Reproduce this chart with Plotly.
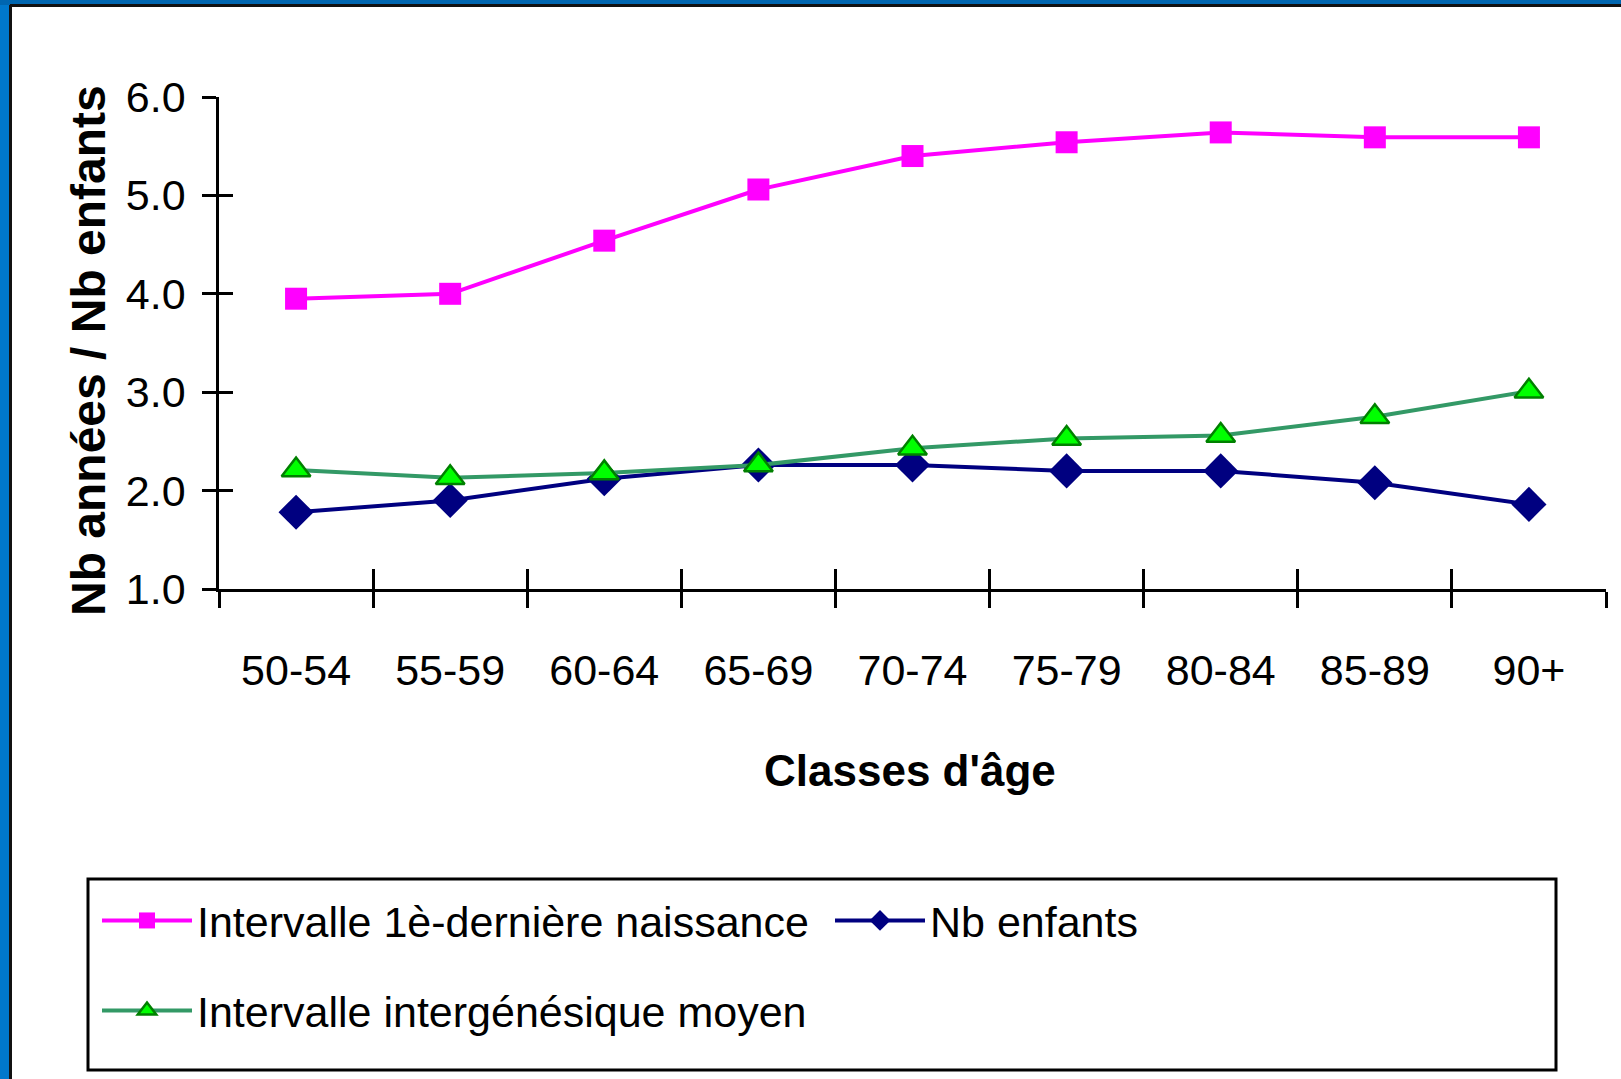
import plotly.graph_objects as go

# data
classes = ["50-54", "55-59", "60-64", "65-69", "70-74",
           "75-79", "80-84", "85-89", "90+"]
interv_premiere_derniere = [3.95, 4.0, 4.54, 5.06, 5.40, 5.54, 5.64, 5.59, 5.59]
nb_enfants = [1.78, 1.90, 2.12, 2.26, 2.26, 2.20, 2.20, 2.08, 1.86]
interv_intergenesique = [2.21, 2.13, 2.18, 2.26, 2.43, 2.53, 2.56, 2.75, 3.01]

y_ticks = [1, 2, 3, 4, 5, 6]
y_ticktext = ["1.0", "2.0", "3.0", "4.0", "5.0", "6.0"]

W, H = 1621, 1079
L, R, T, B = 219, 15, 97, 490
PW, PH = W - L - R, H - T - B

FONT = "Liberation Sans, Arial, sans-serif"


def px_x(p):
    return (p - L) / PW


def px_y(p):
    return (H - B - p) / PH


fig = go.Figure()

fig.add_trace(go.Scatter(
    x=classes, y=interv_premiere_derniere, name="Intervalle 1è-dernière naissance",
    mode="lines+markers", legend="legend",
    line=dict(color="#ff00ff", width=4),
    marker=dict(symbol="square", size=22, color="#ff00ff")))

fig.add_trace(go.Scatter(
    x=classes, y=nb_enfants, name="Nb enfants",
    mode="lines+markers", legend="legend",
    line=dict(color="#000080", width=4),
    marker=dict(symbol="diamond", size=27, color="#000080")))

fig.add_trace(go.Scatter(
    x=classes, y=interv_intergenesique, name="Intervalle intergénésique moyen",
    mode="lines+markers", legend="legend2",
    line=dict(color="#339966", width=4),
    marker=dict(symbol="triangle-up", size=25, color="#00ff00",
                line=dict(color="#008000", width=2.5))))

# empty trace so the overlay axes (inner tick halves) get drawn
fig.add_trace(go.Scatter(x=[], y=[], xaxis="x2", yaxis="y2",
                         showlegend=False, hoverinfo="skip"))

axis_font = dict(family=FONT, size=43, color="black")

fig.update_layout(
    xaxis=dict(type="category", range=[-0.5, 8.5], tickson="boundaries",
               ticks="outside", ticklen=16, tickwidth=2.5, tickcolor="black",
               showline=True, linecolor="black", linewidth=2.5,
               showgrid=False, zeroline=False, tickfont=axis_font,
               ticklabelstandoff=42, automargin=False),
    yaxis=dict(range=[1, 6], tickvals=y_ticks, ticktext=y_ticktext,
               ticks="outside", ticklen=14, tickwidth=2.5, tickcolor="black",
               showline=True, linecolor="black", linewidth=2.5,
               showgrid=False, zeroline=False, tickfont=axis_font,
               ticklabelstandoff=8, automargin=False),
    xaxis2=dict(overlaying="x", anchor="y2", side="bottom", range=[-0.5, 8.5],
                tick0=-0.5, dtick=1, ticks="inside", ticklen=20, tickwidth=2.5,
                tickcolor="black", showticklabels=False, showgrid=False,
                zeroline=False, showline=False, automargin=False),
    yaxis2=dict(overlaying="y", anchor="x2", side="left", range=[1, 6],
                tickvals=y_ticks, ticks="inside", ticklen=14, tickwidth=2.5,
                tickcolor="black", showticklabels=False, showgrid=False,
                zeroline=False, showline=False, automargin=False),
)

# axis titles
fig.add_annotation(text="<b>Nb années / Nb enfants</b>", textangle=-90,
                   xref="paper", yref="paper", x=px_x(88), y=px_y(351),
                   xanchor="center", yanchor="middle", showarrow=False,
                   font=dict(family=FONT, size=48, color="black"))
fig.add_annotation(text="<b>Classes d'âge</b>",
                   xref="paper", yref="paper", x=px_x(910), y=px_y(770),
                   xanchor="center", yanchor="middle", showarrow=False,
                   font=dict(family=FONT, size=44, color="black"))

# slide frame: blue strips with a dark inner edge
fig.add_shape(type="rect", xref="paper", yref="paper",
              x0=px_x(0), x1=px_x(10), y0=px_y(H), y1=px_y(0),
              line=dict(width=0), fillcolor="#0078cc")
fig.add_shape(type="rect", xref="paper", yref="paper",
              x0=px_x(0), x1=px_x(W), y0=px_y(5), y1=px_y(0),
              line=dict(width=0), fillcolor="#0066b0")
fig.add_shape(type="line", xref="paper", yref="paper",
              x0=px_x(10.5), x1=px_x(10.5), y0=px_y(H), y1=px_y(5),
              line=dict(color="#111111", width=3))
fig.add_shape(type="line", xref="paper", yref="paper",
              x0=px_x(10), x1=px_x(W), y0=px_y(5.5), y1=px_y(5.5),
              line=dict(color="#111111", width=3))

# legend frame
fig.add_shape(type="rect", xref="paper", yref="paper",
              x0=px_x(88), x1=px_x(1556), y0=px_y(1070), y1=px_y(879),
              line=dict(color="black", width=3))

legend_font = dict(family=FONT, size=43, color="black")

fig.update_layout(
    width=W, height=H,
    margin=dict(l=L, r=R, t=T, b=B, autoexpand=False),
    plot_bgcolor="white", paper_bgcolor="white",
    showlegend=True,
    legend=dict(orientation="h", x=px_x(97), y=px_y(886),
                xanchor="left", yanchor="top", font=legend_font,
                itemwidth=90, entrywidth=628, bgcolor="rgba(0,0,0,0)"),
    legend2=dict(orientation="h", x=px_x(97), y=px_y(976),
                 xanchor="left", yanchor="top", font=legend_font,
                 itemwidth=90, bgcolor="rgba(0,0,0,0)"),
)

# drop the browser's default body margin so the figure sits at the page origin
fig.write_html("out.html", config={"displayModeBar": False},
               post_script="document.body.style.margin = '0';")
